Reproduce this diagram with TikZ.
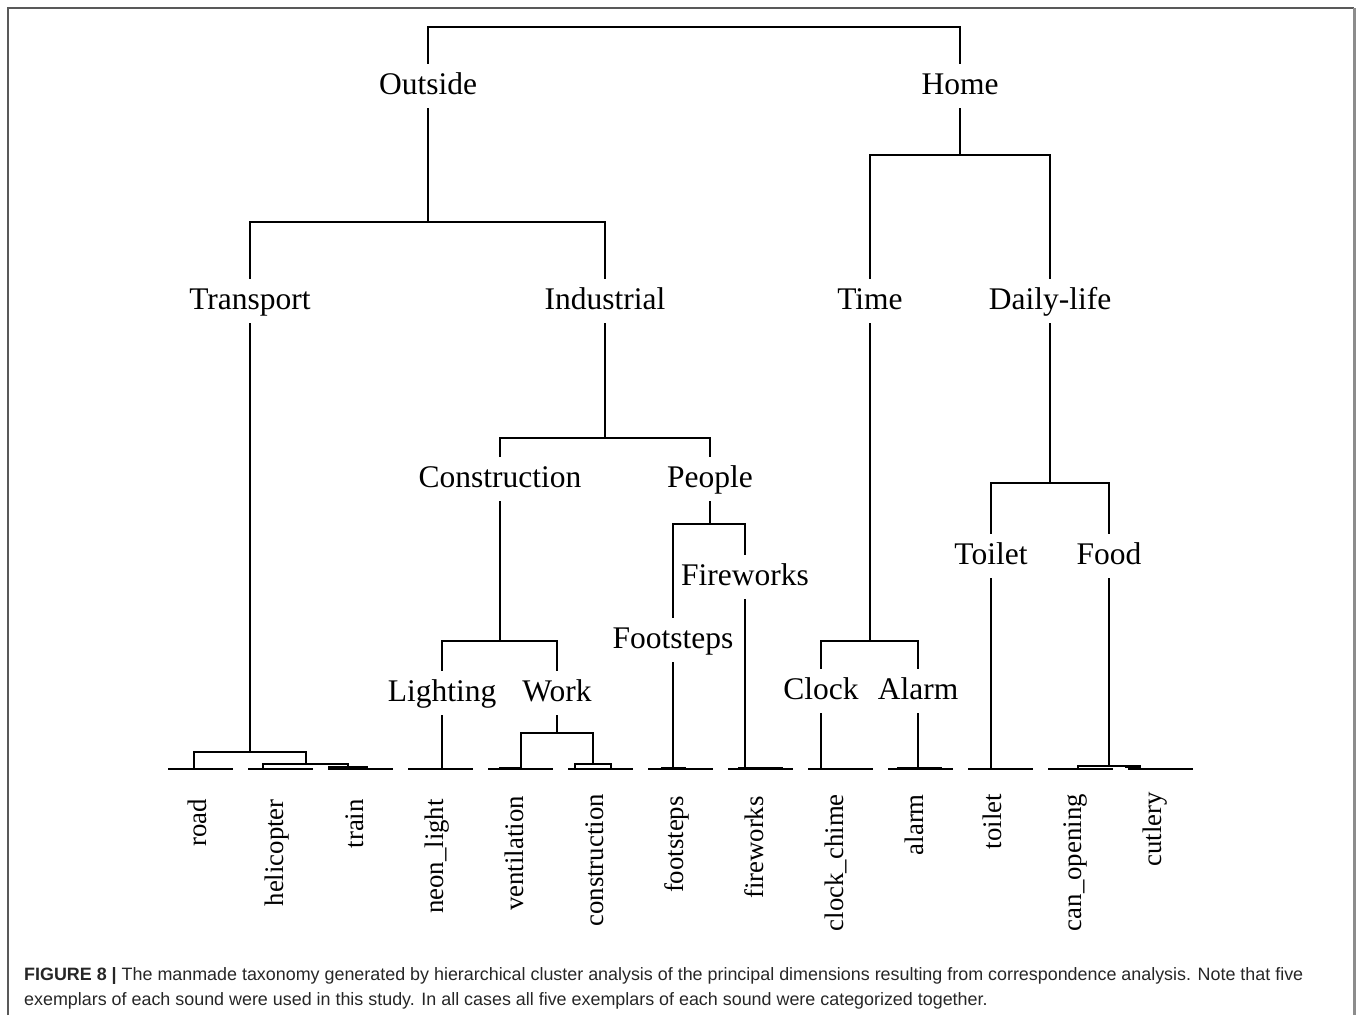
\documentclass[tikz,border=0pt]{standalone}
\usepackage{fontspec}
\setmainfont{Liberation Serif}
\newfontfamily\capfont{Liberation Sans}
\begin{document}
\begin{tikzpicture}[x=1pt,y=-1pt,
  lab/.style={font=\fontsize{31.5}{31.5}\selectfont, text height=23pt, text depth=7pt, inner xsep=2pt, inner ysep=8pt, anchor=base},
  leaf/.style={font=\fontsize{26.8}{26.8}\selectfont, rotate=90, anchor=east, text height=18pt, text depth=6pt, inner sep=0pt},
  br/.style={line width=1.8pt, line cap=rect},
  base/.style={line width=1.8pt},
  fine/.style={line width=1.2pt},
  capt/.style={anchor=base west, inner sep=0pt, font=\capfont\fontsize{17.9}{17.9}\selectfont, text=black!85}]
\useasboundingbox (0,0) rectangle (1357,1015);
% frame
\draw[line width=1.5pt, black!65] (8,1015) -- (8,8) -- (1354,8);
\draw[line width=3pt, black!45] (1354,8) -- (1354,1015);

% category labels
\node[lab] (outside) at (428,94) {Outside};
\node[lab] (home) at (960,94) {Home};
\node[lab] (transport) at (250,309) {Transport};
\node[lab] (industrial) at (605,309) {Industrial};
\node[lab] (time) at (870,309) {Time};
\node[lab] (daily) at (1050,309) {Daily-life};
\node[lab] (construction) at (500,487) {Construction};
\node[lab] (people) at (710,487) {People};
\node[lab] (lighting) at (442,701) {Lighting};
\node[lab] (work) at (557,701) {Work};
\node[lab] (footsteps) at (673,648) {Footsteps};
\node[lab] (fireworks) at (745,585) {Fireworks};
\node[lab] (clock) at (821,699) {Clock};
\node[lab] (alarm) at (918,699) {Alarm};
\node[lab] (toilet) at (991,564) {Toilet};
\node[lab] (food) at (1109,564) {Food};

% junction coordinates
\coordinate (top) at (694,27);
\coordinate (cout) at (428,222);
\coordinate (chome) at (960,155);
\coordinate (ctr) at (250,752);
\coordinate (cht) at (306,764);
\coordinate (cind) at (605,438);
\coordinate (ccon) at (500,641);
\coordinate (cwork) at (557,733);
\coordinate (ccons) at (593,764);
\coordinate (cpeo) at (710,524);
\coordinate (ctime) at (870,641);
\coordinate (cdaily) at (1050,483);
\coordinate (cfood) at (1109,766);
% leaf junctions on the baseline
\coordinate (lroad) at (194,769);
\coordinate (lheli) at (263,769);
\coordinate (ltrain) at (348,768);
\coordinate (lneon) at (442,769);
\coordinate (lvent) at (521,769);
\coordinate (lconsa) at (575,769);
\coordinate (lconsb) at (611,769);
\coordinate (lfoot) at (673,769);
\coordinate (lfire) at (745,769);
\coordinate (lclock) at (821,769);
\coordinate (lalarm) at (918,769);
\coordinate (ltoilet) at (991,769);
\coordinate (lcan) at (1078,769);
\coordinate (lcut) at (1140,769);

% connectors
\draw[br] (outside.north) |- (top) -| (home.north);
\draw[br] (outside.south) -- (cout);
\draw[br] (transport.north) |- (cout) -| (industrial.north);
\draw[br] (home.south) -- (chome);
\draw[br] (time.north) |- (chome) -| (daily.north);

\draw[br] (transport.south) -- (ctr);
\draw[br] (lroad) |- (ctr) -| (cht);
\draw[br] (lheli) |- (cht) -| (ltrain);

\draw[br] (industrial.south) -- (cind);
\draw[br] (construction.north) |- (cind) -| (people.north);
\draw[br] (construction.south) -- (ccon);
\draw[br] (lighting.north) |- (ccon) -| (work.north);
\draw[br] (lighting.south) -- (lneon);
\draw[br] (work.south) -- (cwork);
\draw[br] (lvent) |- (cwork) -| (ccons);
\draw[br] (lconsa) |- (ccons) -| (lconsb);

\draw[br] (people.south) -- (cpeo);
\draw[br] (footsteps.north) |- (cpeo) -| (fireworks.north);
\draw[br] (footsteps.south) -- (lfoot);
\draw[br] (fireworks.south) -- (lfire);

\draw[br] (time.south) -- (ctime);
\draw[br] (clock.north) |- (ctime) -| (alarm.north);
\draw[br] (clock.south) -- (lclock);
\draw[br] (alarm.south) -- (lalarm);

\draw[br] (daily.south) -- (cdaily);
\draw[br] (toilet.north) |- (cdaily) -| (food.north);
\draw[br] (toilet.south) -- (ltoilet);
\draw[br] (food.south) -- (cfood);
\draw[br] (lcan) |- (cfood) -| (lcut);

% tiny exemplar merges
\draw[fine] (328,767) -- (368,767);
\draw[fine] (499,768) -- (520,768);
\draw[fine] (661,768) -- (686,768);
\draw[fine] (738,768) -- (783,768);
\draw[fine] (897,768) -- (942,768);
\draw[fine] (1125,767.5) -- (1140,767.5);

% baseline segments
\foreach \k in {0,...,12}{
  \draw[base] ({168+80*\k},769) -- ({233+80*\k},769);
}

% leaf labels
\node[leaf] (road) at (200,799) {road};
\node[leaf] (helicopter) at (277,799) {helicopter};
\node[leaf] (train) at (357,799) {train};
\node[leaf] (neon) at (437,799) {neon\_light};
\node[leaf] (ventilation) at (517,796) {ventilation};
\node[leaf] (constr) at (597,794) {construction};
\node[leaf] (footst) at (677,796) {footsteps};
\node[leaf] (firew) at (757,796) {fireworks};
\node[leaf] (chime) at (837,794) {clock\_chime};
\node[leaf] (alarmleaf) at (917,794) {alarm};
\node[leaf] (toiletleaf) at (995,794) {toilet};
\node[leaf] (canop) at (1075,794) {can\_opening};
\node[leaf] (cutlery) at (1155,792) {cutlery};

% caption
\node[capt] (cap1) at (24,980)
  {\textbf{FIGURE 8 |} The manmade taxonomy generated by hierarchical cluster analysis of the principal dimensions resulting from correspondence analysis. Note that five};
\node[capt] (cap2) at (24,1005)
  {exemplars of each sound were used in this study. In all cases all five exemplars of each sound were categorized together.};
\end{tikzpicture}
\end{document}
